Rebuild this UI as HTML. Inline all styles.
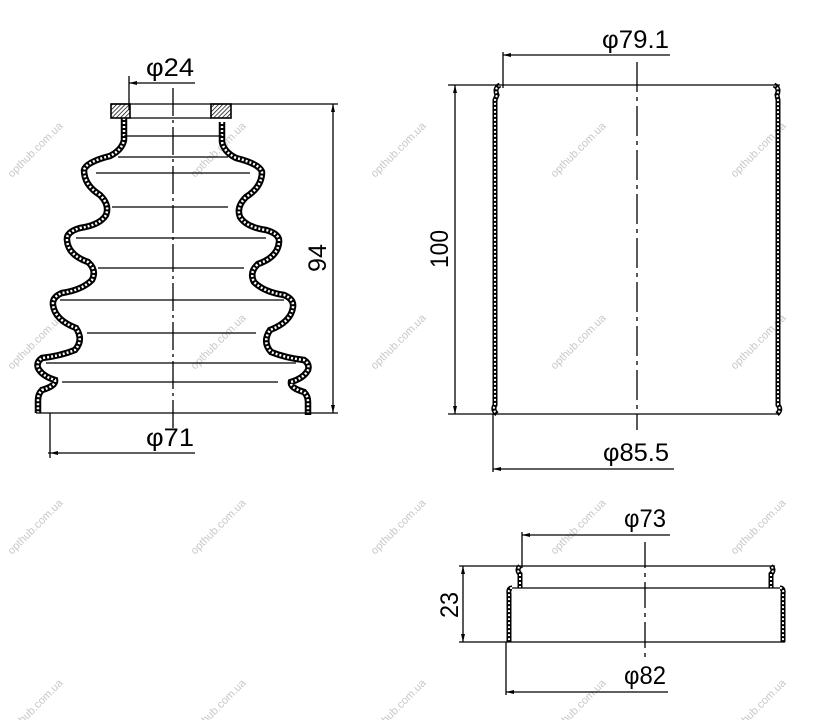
<!DOCTYPE html>
<html><head><meta charset="utf-8"><style>
html,body{margin:0;padding:0;background:#fff;}
svg{display:block;}
.t{font-family:"Liberation Sans",sans-serif;font-size:25px;fill:#000;}
.w{font-family:"Liberation Sans",sans-serif;font-size:11px;fill:#c8c8c8;}
</style></head><body>
<svg width="816" height="720" viewBox="0 0 816 720" xmlns="http://www.w3.org/2000/svg">
<defs>
<pattern id="h" width="3" height="3" patternUnits="userSpaceOnUse" patternTransform="rotate(45)">
<rect width="3" height="3" fill="#fff"/><line x1="0" y1="0" x2="0" y2="3" stroke="#000" stroke-width="1.4"/>
</pattern>
</defs>
<g>
<text class="w" transform="translate(12,178) rotate(-45)">opthub.com.ua</text>
<text class="w" transform="translate(195,178) rotate(-45)">opthub.com.ua</text>
<text class="w" transform="translate(375,178) rotate(-45)">opthub.com.ua</text>
<text class="w" transform="translate(555,178) rotate(-45)">opthub.com.ua</text>
<text class="w" transform="translate(735,178) rotate(-45)">opthub.com.ua</text>
<text class="w" transform="translate(12,370) rotate(-45)">opthub.com.ua</text>
<text class="w" transform="translate(195,370) rotate(-45)">opthub.com.ua</text>
<text class="w" transform="translate(375,370) rotate(-45)">opthub.com.ua</text>
<text class="w" transform="translate(555,370) rotate(-45)">opthub.com.ua</text>
<text class="w" transform="translate(735,370) rotate(-45)">opthub.com.ua</text>
<text class="w" transform="translate(12,555) rotate(-45)">opthub.com.ua</text>
<text class="w" transform="translate(195,555) rotate(-45)">opthub.com.ua</text>
<text class="w" transform="translate(375,555) rotate(-45)">opthub.com.ua</text>
<text class="w" transform="translate(555,555) rotate(-45)">opthub.com.ua</text>
<text class="w" transform="translate(735,555) rotate(-45)">opthub.com.ua</text>
<text class="w" transform="translate(12,735) rotate(-45)">opthub.com.ua</text>
<text class="w" transform="translate(195,735) rotate(-45)">opthub.com.ua</text>
<text class="w" transform="translate(375,735) rotate(-45)">opthub.com.ua</text>
<text class="w" transform="translate(555,735) rotate(-45)">opthub.com.ua</text>
<text class="w" transform="translate(735,735) rotate(-45)">opthub.com.ua</text>
</g>

<!-- BOOT -->
<g fill="none" stroke="#000">
<path d="M124,118 L124,140 Q122,150 110,156 Q86,162 84,170 Q84,185 100,195 Q110,205 106,215 Q100,225 80,228 Q66,232 67,240 Q68,255 88,262 Q97,270 92,280 Q82,290 62,293 Q52,297 53,305 Q55,320 76,328 Q84,340 75,350 Q60,356 42,358 Q36,362 38,368 Q42,376 55,380 Q56,386 42,390 Q38,394 38,400 L38,413" stroke-width="6.5"/>
<path d="M124,118 L124,140 Q122,150 110,156 Q86,162 84,170 Q84,185 100,195 Q110,205 106,215 Q100,225 80,228 Q66,232 67,240 Q68,255 88,262 Q97,270 92,280 Q82,290 62,293 Q52,297 53,305 Q55,320 76,328 Q84,340 75,350 Q60,356 42,358 Q36,362 38,368 Q42,376 55,380 Q56,386 42,390 Q38,394 38,400 L38,413" stroke="#fff" stroke-width="2.5" stroke-dasharray="2 2"/>
<g transform="translate(346,0) scale(-1,1)">
<path d="M124,120 L124,140 Q122,150 110,156 Q86,162 84,170 Q84,185 100,195 Q110,205 106,215 Q100,225 80,228 Q66,232 67,240 Q68,255 88,262 Q97,270 92,280 Q82,290 62,293 Q52,297 53,305 Q55,320 76,328 Q84,340 75,350 Q60,356 42,358 Q36,362 38,368 Q42,376 55,380 Q56,386 42,390 Q38,394 38,400 L38,413" stroke-width="6.5" transform="translate(0,2)"/>
<path d="M124,120 L124,140 Q122,150 110,156 Q86,162 84,170 Q84,185 100,195 Q110,205 106,215 Q100,225 80,228 Q66,232 67,240 Q68,255 88,262 Q97,270 92,280 Q82,290 62,293 Q52,297 53,305 Q55,320 76,328 Q84,340 75,350 Q60,356 42,358 Q36,362 38,368 Q42,376 55,380 Q56,386 42,390 Q38,394 38,400 L38,413" stroke="#fff" stroke-width="2.5" stroke-dasharray="2 2" transform="translate(0,2)"/>
</g>
<rect x="111" y="104" width="19" height="14" fill="url(#h)" stroke-width="1.6"/>
<rect x="211" y="104" width="20" height="14" fill="url(#h)" stroke-width="1.6"/>
<g stroke-width="1.3">
<line x1="111" y1="104" x2="338" y2="104"/>
<line x1="130" y1="118" x2="211" y2="118"/>
<line x1="124" y1="136" x2="222" y2="136"/>
<line x1="118" y1="157" x2="228" y2="157"/>
<line x1="96" y1="173" x2="250" y2="173"/>
<line x1="112" y1="207" x2="228" y2="207"/>
<line x1="76" y1="238" x2="266" y2="238"/>
<line x1="98" y1="268" x2="244" y2="268"/>
<line x1="60" y1="300" x2="284" y2="300"/>
<line x1="87" y1="333" x2="256" y2="333"/>
<line x1="46" y1="363" x2="296" y2="363"/>
<line x1="62" y1="382" x2="278" y2="382"/>
<line x1="36" y1="413" x2="338" y2="413"/>
<line x1="173" y1="88" x2="173" y2="428" stroke-dasharray="28 4 3 4"/>
<line x1="129" y1="83" x2="195" y2="83"/>
<line x1="129" y1="76" x2="129" y2="110"/>
<line x1="48" y1="453" x2="195" y2="453"/>
<line x1="50" y1="413" x2="50" y2="458"/>
<line x1="333" y1="104" x2="333" y2="413"/>
</g>
</g>
<g fill="#000">
<path d="M129,83 l8,-2 v4z"/><path d="M50,453 l8,-2 v4z"/>
<path d="M333,104 l-2,8 h4z"/><path d="M333,413 l-2,-8 h4z"/>
</g>
<text class="t" x="146" y="76" textLength="48" lengthAdjust="spacingAndGlyphs">φ24</text>
<text class="t" x="146" y="446" textLength="48" lengthAdjust="spacingAndGlyphs">φ71</text>
<text class="t" transform="translate(326,272) rotate(-90)" textLength="28" lengthAdjust="spacingAndGlyphs">94</text>

<!-- CYLINDER -->
<g fill="none" stroke="#000">
<path d="M500,85 Q494,88 497,95 L495,100 L495,405 Q492,410 497,414" stroke-width="5"/>
<path d="M500,85 Q494,88 497,95 L495,100 L495,405 Q492,410 497,414" stroke="#fff" stroke-width="2" stroke-dasharray="2 2"/>
<path d="M774,85 Q780,88 777,95 L778,100 L778,405 Q782,410 777,414" stroke-width="5"/>
<path d="M774,85 Q780,88 777,95 L778,100 L778,405 Q782,410 777,414" stroke="#fff" stroke-width="2" stroke-dasharray="2 2"/>
<g stroke-width="1.3">
<line x1="448" y1="85" x2="780" y2="85"/>
<line x1="448" y1="414" x2="780" y2="414"/>
<line x1="455" y1="85" x2="455" y2="414"/>
<line x1="503" y1="55" x2="670" y2="55"/>
<line x1="503" y1="52" x2="503" y2="88"/>
<line x1="493" y1="469" x2="674" y2="469"/>
<line x1="493" y1="414" x2="493" y2="472"/>
<line x1="637" y1="62" x2="637" y2="430" stroke-dasharray="30 5 4 5"/>
</g>
</g>
<g fill="#000">
<path d="M503,55 l8,-2 v4z"/><path d="M493,469 l8,-2 v4z"/>
<path d="M455,85 l-2,8 h4z"/><path d="M455,414 l-2,-8 h4z"/>
</g>
<text class="t" x="602" y="48" textLength="67" lengthAdjust="spacingAndGlyphs">φ79.1</text>
<text class="t" x="603" y="461" textLength="66" lengthAdjust="spacingAndGlyphs">φ85.5</text>
<text class="t" transform="translate(448,268) rotate(-90)" textLength="38" lengthAdjust="spacingAndGlyphs">100</text>

<!-- RING -->
<g fill="none" stroke="#000">
<path d="M520,588 L520,574 Q516,570 520,566" stroke-width="5"/>
<path d="M520,588 L520,574 Q516,570 520,566" stroke="#fff" stroke-width="2" stroke-dasharray="2 2"/>
<path d="M771,588 L771,574 Q775,570 771,566" stroke-width="5"/>
<path d="M771,588 L771,574 Q775,570 771,566" stroke="#fff" stroke-width="2" stroke-dasharray="2 2"/>
<path d="M512,588 Q508,588 509,594 L509,642" stroke-width="5"/>
<path d="M512,588 Q508,588 509,594 L509,642" stroke="#fff" stroke-width="2" stroke-dasharray="2 2"/>
<path d="M780,588 Q784,588 783,594 L783,642" stroke-width="5"/>
<path d="M780,588 Q784,588 783,594 L783,642" stroke="#fff" stroke-width="2" stroke-dasharray="2 2"/>
<g stroke-width="1.3">
<line x1="459" y1="566" x2="775" y2="566"/>
<line x1="512" y1="588" x2="780" y2="588"/>
<line x1="459" y1="642" x2="785" y2="642"/>
<line x1="463" y1="566" x2="463" y2="642"/>
<line x1="522" y1="535" x2="670" y2="535"/>
<line x1="522" y1="532" x2="522" y2="568"/>
<line x1="506" y1="692" x2="668" y2="692"/>
<line x1="506" y1="642" x2="506" y2="695"/>
<line x1="645" y1="542" x2="645" y2="660" stroke-dasharray="26 5 4 5"/>
</g>
</g>
<g fill="#000">
<path d="M522,535 l8,-2 v4z"/><path d="M506,692 l8,-2 v4z"/>
<path d="M463,566 l-2,8 h4z"/><path d="M463,642 l-2,-8 h4z"/>
</g>
<text class="t" x="624" y="527" textLength="42" lengthAdjust="spacingAndGlyphs">φ73</text>
<text class="t" x="624" y="684" textLength="42" lengthAdjust="spacingAndGlyphs">φ82</text>
<text class="t" transform="translate(458,618) rotate(-90)" textLength="26" lengthAdjust="spacingAndGlyphs">23</text>
</svg>
</body></html>
